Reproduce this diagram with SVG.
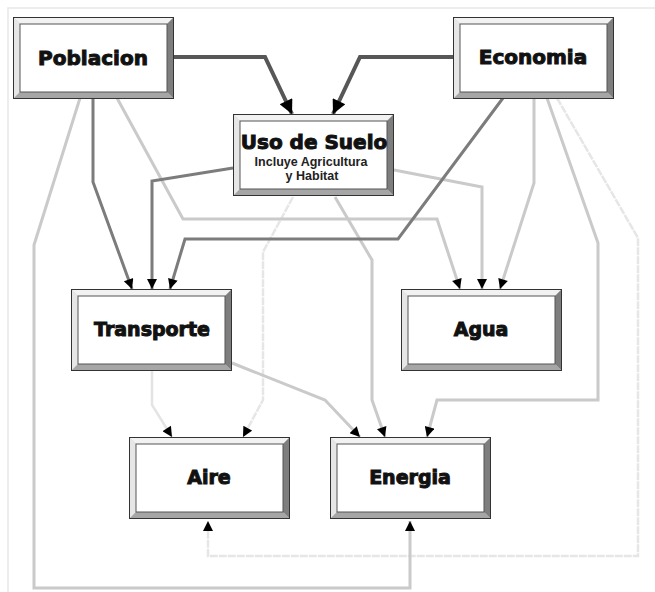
<svg xmlns="http://www.w3.org/2000/svg" xmlns:xlink="http://www.w3.org/1999/xlink" width="655" height="592" viewBox="0 0 655 592">
<style>
.lbl{font-family:"DejaVu Sans","Liberation Sans",sans-serif;font-weight:bold;fill:#111;stroke:#111;stroke-width:1;text-anchor:middle}
.sub{font-family:"Liberation Sans",Arial,sans-serif;font-weight:bold;font-size:12.5px;fill:#222;text-anchor:middle}
.c{fill:none;stroke-linejoin:miter}
.dk{stroke:#575757;stroke-width:4}
.md{stroke:#7c7c7c;stroke-width:3}
.lt{stroke:#cacaca;stroke-width:3}
.vl{stroke:#e4e4e4;stroke-width:2.5}
.dt{stroke:#e6e6e6;stroke-width:2.5;stroke-dasharray:8 1}
</style>
<defs>
<marker id="ah" viewBox="0 0 10 10" refX="10" refY="5" markerWidth="12" markerHeight="10" markerUnits="userSpaceOnUse" orient="auto"><path d="M0,0 L10,5 L0,10 z" fill="#000"/></marker>
<marker id="ahL" viewBox="0 0 10 10" refX="10" refY="5" markerWidth="16" markerHeight="14" markerUnits="userSpaceOnUse" orient="auto"><path d="M0,0 L10,5 L0,10 z" fill="#000"/></marker>
<g id="box">
<rect x="0" y="0" width="161" height="82" fill="#ccc"/>
<polygon points="0,0 161,0 154,7 7,7" fill="#f2f2f2"/>
<polygon points="0,0 7,7 7,75 0,82" fill="#e6e6e6"/>
<polygon points="161,0 161,82 154,75 154,7" fill="#7e7e7e"/>
<polygon points="0,82 161,82 154,75 7,75" fill="#a6a6a6"/>
<rect x="7" y="7" width="147" height="68" fill="#fff" stroke="#555" stroke-width="1"/>
<rect x="0.5" y="0.5" width="160" height="81" fill="none" stroke="#333" stroke-width="1"/>
</g>
</defs>
<rect width="655" height="592" fill="#fff"/>
<path d="M8,592 L8,8 L655,8" fill="none" stroke="#e8e8e8" stroke-width="1.5"/>
<g id="connectors">
<path class="c vl" d="M152,370 L152,405 L172,437" marker-end="url(#ah)"/>
<path class="c dt" d="M293,197 L263,252 L263,400 L243,437" marker-end="url(#ah)"/>
<path class="c dt" d="M557,98 L638,238 L638,556 L208,556 L208,521" marker-end="url(#ah)"/>
<path class="c lt" d="M117,98 L183,219 L437,219 L460,289" marker-end="url(#ah)"/>
<path class="c lt" d="M394,170 L482,187 L482,289" marker-end="url(#ah)"/>
<path class="c lt" d="M534,98 L534,183 L500,289" marker-end="url(#ah)"/>
<path class="c lt" d="M80,98 L34,245 L34,588 L410,588 L410,521" marker-end="url(#ah)"/>
<path class="c lt" d="M547,98 L598,243 L598,400 L437,400 L427,437" marker-end="url(#ah)"/>
<path class="c lt" d="M335,197 L372,260 L372,400 L385,437" marker-end="url(#ah)"/>
<path class="c lt" d="M232,363 L325,400 L360,437" marker-end="url(#ah)"/>
<path class="c md" d="M93,98 L93,182 L132,289" marker-end="url(#ah)"/>
<path class="c md" d="M233,168 L152,181 L152,289" marker-end="url(#ah)"/>
<path class="c md" d="M503,98 L398,239 L185,239 L170,289" marker-end="url(#ah)"/>
<path class="c dk" d="M173,57 L265,57 L292,114" marker-end="url(#ahL)"/>
<path class="c dk" d="M453,57 L360,57 L333,114" marker-end="url(#ahL)"/>
</g>
<g id="poblacion"><use xlink:href="#box" x="13" y="17"/><text class="lbl" x="93" y="65" font-size="20">Poblacion</text></g>
<g id="economia"><use xlink:href="#box" x="453" y="17"/><text class="lbl" x="533" y="64" font-size="20">Economia</text></g>
<g id="uso"><use xlink:href="#box" x="233" y="114"/><text class="lbl" x="314" y="149" font-size="20">Uso de Suelo</text><text class="sub" x="311" y="166">Incluye Agricultura</text><text class="sub" x="312" y="180">y Habitat</text></g>
<g id="transporte"><use xlink:href="#box" x="71" y="289"/><text class="lbl" x="152" y="336" font-size="19">Transporte</text></g>
<g id="agua"><use xlink:href="#box" x="401" y="289"/><text class="lbl" x="481" y="336" font-size="19">Agua</text></g>
<g id="aire"><use xlink:href="#box" x="129" y="437"/><text class="lbl" x="209" y="484" font-size="19">Aire</text></g>
<g id="energia"><use xlink:href="#box" x="330" y="437"/><text class="lbl" x="410" y="484" font-size="19">Energia</text></g>
</svg>
